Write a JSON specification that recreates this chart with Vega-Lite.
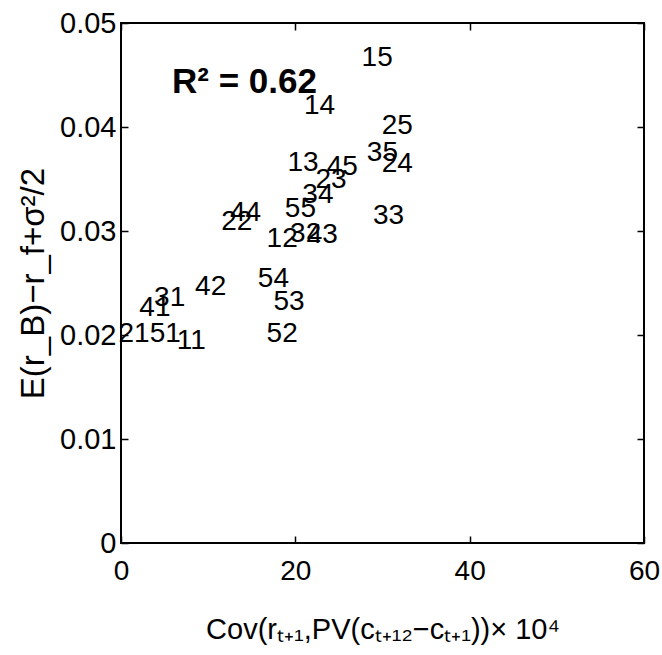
{
  "$schema": "https://vega.github.io/schema/vega-lite/v6.json",
  "width": 523,
  "height": 520,
  "autosize": {"type": "none"},
  "padding": {"left": 121, "top": 23, "right": 18, "bottom": 112},
  "background": "white",
  "config": {
    "view": {"stroke": "black", "strokeWidth": 2},
    "font": "Liberation Sans, Arial"
  },
  "layer": [
    {
      "data": {
        "values": [
          {"cov": 27.6, "ret": 0.0466, "label": "15"},
          {"cov": 21.0, "ret": 0.0420, "label": "14"},
          {"cov": 29.9, "ret": 0.0401, "label": "25"},
          {"cov": 28.2, "ret": 0.0375, "label": "35"},
          {"cov": 29.9, "ret": 0.0364, "label": "24"},
          {"cov": 19.1, "ret": 0.0365, "label": "13"},
          {"cov": 23.6, "ret": 0.0362, "label": "45"},
          {"cov": 22.3, "ret": 0.0349, "label": "23"},
          {"cov": 20.8, "ret": 0.0335, "label": "34"},
          {"cov": 18.8, "ret": 0.0321, "label": "55"},
          {"cov": 28.9, "ret": 0.0314, "label": "33"},
          {"cov": 12.5, "ret": 0.0317, "label": "44"},
          {"cov": 11.5, "ret": 0.0309, "label": "22"},
          {"cov": 19.4, "ret": 0.0297, "label": "32"},
          {"cov": 21.3, "ret": 0.0296, "label": "43"},
          {"cov": 16.7, "ret": 0.0292, "label": "12"},
          {"cov": 15.7, "ret": 0.0254, "label": "54"},
          {"cov": 17.5, "ret": 0.0232, "label": "53"},
          {"cov": 8.5, "ret": 0.0246, "label": "42"},
          {"cov": 3.8, "ret": 0.0236, "label": "31"},
          {"cov": 2.1, "ret": 0.0226, "label": "41"},
          {"cov": -0.3, "ret": 0.0201, "label": "21"},
          {"cov": 3.3, "ret": 0.0201, "label": "51"},
          {"cov": 6.4, "ret": 0.0194, "label": "11"},
          {"cov": 16.7, "ret": 0.0201, "label": "52"}
        ]
      },
      "mark": {"type": "text", "align": "left", "baseline": "middle", "fontSize": 28, "color": "black", "font": "Liberation Sans, Arial"},
      "encoding": {
        "x": {
          "field": "cov", "type": "quantitative",
          "scale": {"domain": [0, 60], "nice": false, "zero": false},
          "axis": {
            "orient": "bottom", "values": [0, 20, 40, 60], "grid": false, "domain": false,
            "tickSize": -7, "tickColor": "black", "tickWidth": 1.5,
            "labelFontSize": 28, "labelColor": "black", "labelPadding": 21, "labelFlush": false, "labelOverlap": false, "labelBound": false,
            "labelFont": "Liberation Sans, Arial",
            "title": "Cov(rₜ₊₁,PV(cₜ₊₁₂−cₜ₊₁))× 10⁴",
            "titleFontSize": 29, "titleFontWeight": "normal", "titleColor": "black", "titlePadding": 30,
            "titleFont": "Liberation Sans, Arial"
          }
        },
        "y": {
          "field": "ret", "type": "quantitative",
          "scale": {"domain": [0, 0.05], "nice": false, "zero": false},
          "axis": {
            "orient": "left", "values": [0, 0.01, 0.02, 0.03, 0.04, 0.05], "format": ".2~f", "grid": false, "domain": false,
            "tickSize": -7, "tickColor": "black", "tickWidth": 1.5,
            "labelFontSize": 29, "labelColor": "black", "labelPadding": 12, "labelFlush": false, "labelOverlap": false, "labelBound": false,
            "labelFont": "Liberation Sans, Arial",
            "title": "E(r_B)−r_f+σ²/2",
            "titleFontSize": 33, "titleFontWeight": "normal", "titleColor": "black", "titlePadding": 9,
            "titleFont": "Liberation Sans, Arial"
          }
        },
        "text": {"field": "label", "type": "nominal"}
      }
    },
    {
      "data": {"values": [{"cov": 5.85, "ret": 0.0443, "label": "R² = 0.62"}]},
      "mark": {"type": "text", "align": "left", "baseline": "middle", "fontSize": 35, "fontWeight": "bold", "color": "black", "font": "Liberation Sans, Arial"},
      "encoding": {
        "x": {
          "field": "cov", "type": "quantitative",
          "scale": {"domain": [0, 60], "nice": false, "zero": false},
          "axis": {"orient": "top", "values": [0, 20, 40, 60], "grid": false, "domain": false, "labels": false, "title": null,
                   "tickSize": -7, "tickColor": "black", "tickWidth": 1.5}
        },
        "y": {
          "field": "ret", "type": "quantitative",
          "scale": {"domain": [0, 0.05], "nice": false, "zero": false},
          "axis": {"orient": "right", "values": [0, 0.01, 0.02, 0.03, 0.04, 0.05], "grid": false, "domain": false, "labels": false, "title": null,
                   "tickSize": -7, "tickColor": "black", "tickWidth": 1.5}
        },
        "text": {"field": "label", "type": "nominal"}
      }
    }
  ],
  "resolve": {"axis": {"x": "independent", "y": "independent"}}
}
